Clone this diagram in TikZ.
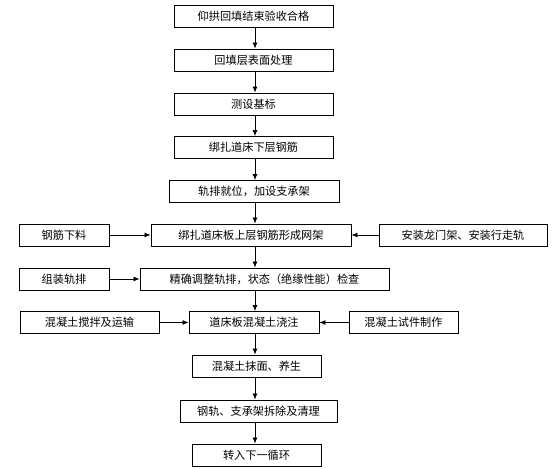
\documentclass[tikz,border=0pt]{standalone}
\usepackage{fontspec}
\setmainfont{Noto Sans CJK SC}
\usetikzlibrary{arrows.meta}
\begin{document}
\begin{tikzpicture}[x=1bp,y=-1bp,
  box/.style={draw,line width=0.9bp,minimum height=22bp,inner sep=0pt,
    font=\fontsize{11.2}{13}\selectfont},
  arr/.style={draw,line width=0.8bp,-{Latex[length=6bp,width=5bp]}}]
\useasboundingbox (0,0) rectangle (558,469);
\node[box,minimum width=159bp] (b1) at (253.5,16) {仰拱回填结束验收合格};
\node[box,minimum width=159bp] (b2) at (253.5,60) {回填层表面处理};
\node[box,minimum width=159bp] (b3) at (253.5,104) {测设基标};
\node[box,minimum width=159bp] (b4) at (253.5,147.5) {绑扎道床下层钢筋};
\node[box,minimum width=170bp] (b5) at (254,191.5) {轨排就位，加设支承架};
\node[box,minimum width=200bp] (b6) at (251,235) {绑扎道床板上层钢筋形成网架};
\node[box,minimum width=90bp] (l6) at (64,235) {钢筋下料};
\node[box,minimum width=168bp] (r6) at (463,235) {安装龙门架、安装行走轨};
\node[box,minimum width=249bp] (b7) at (264.5,279) {精确调整轨排，状态（绝缘性能）检查};
\node[box,minimum width=90bp] (l7) at (64,279) {组装轨排};
\node[box,minimum width=130bp] (b8) at (254,322.5) {道床板混凝土浇注};
\node[box,minimum width=139bp] (l8) at (89.5,322.5) {混凝土搅拌及运输};
\node[box,minimum width=109bp] (r8) at (403.5,322.5) {混凝土试件制作};
\node[box,minimum width=129bp] (b9) at (256.5,366) {混凝土抹面、养生};
\node[box,minimum width=157bp] (b10) at (258.5,411) {钢轨、支承架拆除及清理};
\node[box,minimum width=129bp] (b11) at (256.5,455) {转入下一循环};
\coordinate (ax) at (255,0);
\foreach \a/\b in {b1/b2,b2/b3,b3/b4,b4/b5,b5/b6,b6/b7,b7/b8,b8/b9,b9/b10,b10/b11}
  \draw[arr] (\a.south -| ax) -- (\b.north -| ax);
\draw[arr] (l6) -- (b6);
\draw[arr] (r6) -- (b6);
\draw[arr] (l7) -- (l7 -| b7.west);
\draw[arr] (l8) -- (b8);
\draw[arr] (r8) -- (b8);
\end{tikzpicture}
\end{document}
